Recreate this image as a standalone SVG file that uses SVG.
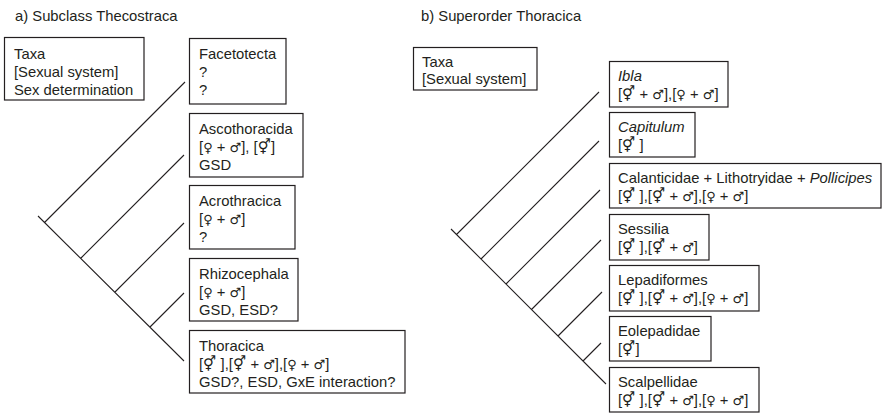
<svg xmlns="http://www.w3.org/2000/svg" width="882" height="414" viewBox="0 0 882 414">
<style>
.box{fill:#fff;stroke:#231f20;stroke-width:1.2}
text{font-family:"Liberation Sans",Arial,"DejaVu Sans",sans-serif;font-size:14.8px;fill:#231f20}
.it{font-style:italic}
.g{font-family:"DejaVu Sans",sans-serif;font-size:13px}
.br{stroke:#231f20;stroke-width:1.1;fill:none}
</style>
<rect width="882" height="414" fill="#fff"/>
<text x="15" y="21">a) Subclass Thecostraca</text>
<text x="421" y="21">b) Superorder Thoracica</text>

<g id="connectors">
<path class="br" d="M38,216 L184,361 M44.5,222.5 L185,82 M80.5,258.5 L184,155 M114.5,292.5 L184,223 M149.5,327.5 L184,293"/>
<path class="br" d="M451,229 L606,384 M456.5,234.5 L599,92 M481,259 L599,141 M506,284 L600,190 M531.5,309.5 L601,240 M558,336 L602,292 M583,361 L601,343"/>
</g>

<g id="legend-a">
<rect class="box" x="4.5" y="37.5" width="139.5" height="62.5"/>
<text x="14" y="58.5">Taxa</text>
<text x="14" y="76.5">[Sexual system]</text>
<text x="14" y="94.5">Sex determination</text>
</g>
<g id="facetotecta">
<rect class="box" x="189.5" y="38.5" width="96.5" height="65.5"/>
<text x="199" y="59">Facetotecta</text>
<text x="199" y="77">?</text>
<text x="199" y="95">?</text>
</g>
<g id="ascothoracida">
<rect class="box" x="189.5" y="113.5" width="113.5" height="63.5"/>
<text x="199" y="134">Ascothoracida</text>
<text x="199" y="152">[<tspan class="g">♀</tspan> + <tspan class="g">♂</tspan>], [⚥]</text>
<text x="199" y="170">GSD</text>
</g>
<g id="acrothracica">
<rect class="box" x="189.5" y="185.5" width="105.5" height="63.5"/>
<text x="199" y="206">Acrothracica</text>
<text x="199" y="224">[<tspan class="g">♀</tspan> + <tspan class="g">♂</tspan>]</text>
<text x="199" y="242">?</text>
</g>
<g id="rhizocephala">
<rect class="box" x="189.5" y="258.5" width="108.5" height="62.5"/>
<text x="199" y="279">Rhizocephala</text>
<text x="199" y="297">[<tspan class="g">♀</tspan> + <tspan class="g">♂</tspan>]</text>
<text x="199" y="315">GSD, ESD?</text>
</g>
<g id="thoracica">
<rect class="box" x="189.5" y="330.5" width="215.5" height="62.5"/>
<text x="199" y="351">Thoracica</text>
<text x="199" y="369">[⚥ ],[⚥ + <tspan class="g">♂</tspan>],[<tspan class="g">♀</tspan> + <tspan class="g">♂</tspan>]</text>
<text x="199" y="387">GSD?, ESD, GxE interaction?</text>
</g>

<g id="legend-b">
<rect class="box" x="413.5" y="47.5" width="123.5" height="42.5"/>
<text x="422" y="67">Taxa</text>
<text x="422" y="84">[Sexual system]</text>
</g>
<g id="ibla">
<rect class="box" x="609.5" y="61.5" width="118.5" height="45.5"/>
<text x="618" y="81" class="it">Ibla</text>
<text x="618" y="99">[⚥ + <tspan class="g">♂</tspan>],[<tspan class="g">♀</tspan> + <tspan class="g">♂</tspan>]</text>
</g>
<g id="capitulum">
<rect class="box" x="609.5" y="112.5" width="85.5" height="44.5"/>
<text x="618" y="132" class="it">Capitulum</text>
<text x="618" y="150">[⚥ ]</text>
</g>
<g id="calanticidae">
<rect class="box" x="609.5" y="163.5" width="271.5" height="44.5"/>
<text x="618" y="183">Calanticidae + Lithotryidae + <tspan class="it">Pollicipes</tspan></text>
<text x="618" y="201">[⚥ ],[⚥ + <tspan class="g">♂</tspan>],[<tspan class="g">♀</tspan> + <tspan class="g">♂</tspan>]</text>
</g>
<g id="sessilia">
<rect class="box" x="609.5" y="214.5" width="99.5" height="45.5"/>
<text x="618" y="234">Sessilia</text>
<text x="618" y="252">[⚥ ],[⚥ + <tspan class="g">♂</tspan>]</text>
</g>
<g id="lepadiformes">
<rect class="box" x="609.5" y="265.5" width="149.5" height="45.5"/>
<text x="618" y="285">Lepadiformes</text>
<text x="618" y="303">[⚥ ],[⚥ + <tspan class="g">♂</tspan>],[<tspan class="g">♀</tspan> + <tspan class="g">♂</tspan>]</text>
</g>
<g id="eolepadidae">
<rect class="box" x="609.5" y="316.5" width="101.5" height="44.5"/>
<text x="618" y="336">Eolepadidae</text>
<text x="618" y="354">[⚥]</text>
</g>
<g id="scalpellidae">
<rect class="box" x="609.5" y="367.5" width="149.5" height="44.5"/>
<text x="618" y="387">Scalpellidae</text>
<text x="618" y="405">[⚥ ],[⚥ + <tspan class="g">♂</tspan>],[<tspan class="g">♀</tspan> + <tspan class="g">♂</tspan>]</text>
</g>
</svg>
